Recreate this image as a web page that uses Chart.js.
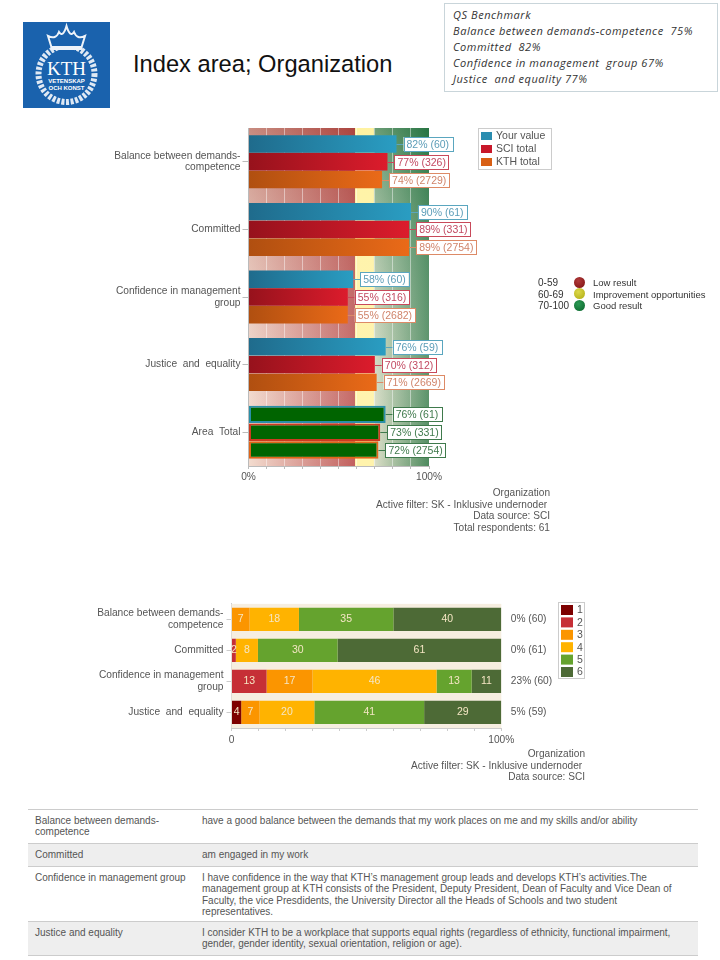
<!DOCTYPE html>
<html>
<head>
<meta charset="utf-8">
<title>Index area; Organization</title>
<script src="https://cdn.jsdelivr.net/npm/chart.js@4"></script>
<style>
html,body{margin:0;padding:0;background:#fff}
body{position:relative;width:720px;height:960px;overflow:hidden;font-family:"Liberation Sans",Arial,sans-serif;color:#555}
.abs{position:absolute;white-space:nowrap}
canvas{position:absolute}
#title{left:133px;top:51px;font-size:23.7px;color:#111}
#qs{left:444px;top:3px;width:274px;height:89px;border:1px solid #c9d5da;box-sizing:border-box;padding:3px 8px;font:italic 11px/16px "Open Sans",sans-serif;color:#333;letter-spacing:.55px}
.note{text-align:right;font-size:10.1px;line-height:11.7px;color:#555;white-space:pre}
.rate{font-size:9.5px;color:#333;line-height:11.5px}
.dot{position:absolute;width:11px;height:11px;border-radius:50%}
.row{position:absolute;left:28px;width:670px;box-sizing:border-box;border-top:1px solid #ccc;font-size:10px;line-height:11.3px;color:#555}
.row div{position:absolute;top:5px}
.row .a{left:7px}
.row .b{left:174px;width:490px;white-space:nowrap}
</style>
</head>
<body>
<svg class="abs" style="left:23px;top:22px" width="87" height="86" viewBox="0 0 87 86">
  <rect width="87" height="86" fill="#1a62ad"/>
  <circle cx="43.5" cy="52" r="28" fill="none" stroke="#dfe9f4" stroke-width="6" stroke-dasharray="3 1.6"/>
  <path d="M29 27 L25 14 Q33 18 36 10 Q40 16 43.5 4 Q47 16 51 10 Q54 18 62 14 L58 27 Z" fill="#1a62ad" stroke="#eef3f9" stroke-width="2"/>
  <rect x="29" y="24" width="29" height="3" fill="#eef3f9"/>
  <text x="43.5" y="53" text-anchor="middle" font-family="Liberation Serif" font-size="19" fill="#fff">KTH</text>
  <text x="43.5" y="61" text-anchor="middle" font-family="Liberation Sans" font-weight="bold" font-size="6" fill="#fff">VETENSKAP</text>
  <text x="43.5" y="68" text-anchor="middle" font-family="Liberation Sans" font-weight="bold" font-size="6" fill="#fff">OCH KONST</text>
</svg>
<div class="abs" id="title">Index area; Organization</div>
<div class="abs" id="qs">QS Benchmark<br>Balance between demands-competence&nbsp; 75%<br>Committed&nbsp; 82%<br>Confidence in management&nbsp; group 67%<br>Justice&nbsp; and equality 77%</div>

<canvas id="indexChart" width="480" height="380" style="left:100px;top:120px"></canvas>

<div class="abs rate" style="left:538px;top:277px;font-size:10px">0-59<br>60-69<br>70-100</div>
<div class="dot" style="left:574px;top:277px;background:radial-gradient(circle at 40% 35%,#b03a3a,#7d1010)"></div>
<div class="dot" style="left:574px;top:288px;background:radial-gradient(circle at 40% 35%,#dcd84a,#aeaa10)"></div>
<div class="dot" style="left:574px;top:300px;background:radial-gradient(circle at 40% 35%,#2c9a54,#0a642c)"></div>
<div class="abs rate" style="left:593px;top:277px">Low result<br>Improvement opportunities<br>Good result</div>

<div class="abs note" style="right:170px;top:487px">Organization
Active filter: SK - Inklusive undernoder&nbsp;
Data source: SCI
Total respondents: 61</div>

<canvas id="scaleChart" width="510" height="170" style="left:90px;top:595px"></canvas>

<div class="abs note" style="right:135px;top:748px">Organization
Active filter: SK - Inklusive undernoder&nbsp;
Data source: SCI</div>

<div class="row" style="top:809px;height:34px"><div class="a">Balance between demands-<br>competence</div><div class="b">have a good balance between the demands that my work places on me and my skills and/or ability</div></div>
<div class="row" style="top:843px;height:23px;background:#eee"><div class="a">Committed</div><div class="b">am engaged in my work</div></div>
<div class="row" style="top:866px;height:55px"><div class="a">Confidence in management group</div><div class="b">I have confidence in the way that KTH’s management group leads and develops KTH’s activities.The<br>management group at KTH consists of the President, Deputy President, Dean of Faculty and Vice Dean of<br>Faculty, the vice Presdidents, the University Director all the Heads of Schools and two student<br>representatives.</div></div>
<div class="row" style="top:921px;height:35px;background:#eee;border-bottom:1px solid #ccc"><div class="a">Justice and equality</div><div class="b">I consider KTH to be a workplace that supports equal rights (regardless of ethnicity, functional impairment,<br>gender, gender identity, sexual orientation, religion or age).</div></div>

<script>
// index chart data
const indexCats=[['Balance between demands-','competence'],'Committed',['Confidence in management','group'],'Justice  and  equality','Area  Total']
const yourValue=[82,90,58,76,76]
const yourN=[60,61,60,59,61]
const sciTotal=[77,89,55,70,73]
const sciN=[326,331,316,312,331]
const kthTotal=[74,89,55,71,72]
const kthN=[2729,2754,2682,2669,2754]
const zoneEdges=[0,59,69.5,100]

// distribution chart data
const scaleCats=[['Balance between demands-','competence'],'Committed',['Confidence in management','group'],'Justice  and  equality']
const score1=[0,0,0,3.6]
const score2=[0,1.6,13,0]
const score3=[6.7,0,17,6.8]
const score4=[18.3,8.2,46,20.3]
const score5=[35,29.5,13,40.7]
const score6=[40,60.7,11,28.6]
const lowShare=['0% (60)','0% (61)','23% (60)','5% (59)']

Chart.defaults.font.family='"Liberation Sans",Arial,sans-serif'
Chart.defaults.font.size=10.2
Chart.defaults.color='#555'
Chart.defaults.animation=false

// coloured bands behind the grid and the index bars
const zoneBands={
  id:'zoneBands',
  beforeDraw(chart){
    const {ctx,chartArea:a,scales:{x}}=chart
    const zones=[
      {l:'#f3dccf',r:'#c2605e',t:'rgba(140,30,20,.42)'},
      {l:'#fff3ac',r:'#fff3ac',t:'rgba(255,240,120,.2)'},
      {l:'#dcdfc8',r:'#4e8a5e',t:'rgba(0,95,40,.5)'}
    ]
    ctx.save()
    zones.forEach((z,i)=>{
      const x0=x.getPixelForValue(zoneEdges[i]),x1=x.getPixelForValue(zoneEdges[i+1])
      let g=ctx.createLinearGradient(x0,0,x1,0)
      g.addColorStop(0,z.l);g.addColorStop(1,z.r)
      ctx.fillStyle=g
      ctx.fillRect(x0,a.top,x1-x0,a.height)
      g=ctx.createLinearGradient(0,a.top,0,a.bottom)
      g.addColorStop(0,z.t);g.addColorStop(1,'rgba(255,255,255,0)')
      ctx.fillStyle=g
      ctx.fillRect(x0,a.top,x1-x0,a.height)
    })
    ctx.restore()
  }
}

// "82% (60)" boxes at the end of each bar
const endLabels={
  id:'endLabels',
  afterDatasetsDraw(chart){
    const {ctx}=chart
    ctx.save()
    ctx.font='10.5px "Liberation Sans"'
    ctx.textBaseline='middle'
    chart.data.datasets.forEach((ds,d)=>{
      chart.getDatasetMeta(d).data.forEach((bar,i)=>{
        const txt=ds.data[i]+'% ('+ds.counts[i]+')'
        const total=i==indexCats.length-1
        const line=total?'#3f7a4c':ds.line
        const w=ctx.measureText(txt).width+6
        const bx=bar.x+7,by=Math.round(bar.y)-7
        ctx.strokeStyle=line
        ctx.lineWidth=1
        ctx.beginPath();ctx.moveTo(bar.x,by+7.5);ctx.lineTo(bx,by+7.5);ctx.stroke()
        ctx.fillStyle='#fff'
        ctx.fillRect(bx,by,w,14)
        ctx.strokeRect(Math.round(bx)+.5,by+.5,Math.round(w),14)
        ctx.fillStyle=total?'#3f7a4c':ds.ink
        ctx.fillText(txt,bx+3,by+8)
      })
    })
    ctx.restore()
  }
}

// boxed legend next to the plot
const boxLegend={
  id:'boxLegend',
  afterDraw(chart,args,o){
    const {ctx}=chart
    const sets=chart.data.datasets
    ctx.save()
    ctx.strokeStyle='#ccc'
    ctx.fillStyle='#fff'
    ctx.fillRect(o.x,o.y,o.w,o.h)
    ctx.strokeRect(o.x+.5,o.y+.5,o.w,o.h)
    ctx.font='10.5px "Liberation Sans"'
    ctx.textBaseline='middle'
    sets.forEach((ds,i)=>{
      const y=o.y+o.pad+i*o.step
      ctx.fillStyle=ds.swatch
      ctx.fillRect(o.x+3,y,o.sw,o.sh)
      ctx.fillStyle='#555'
      ctx.fillText(ds.label,o.x+o.sw+7,y+o.sh/2+.5)
    })
    ctx.restore()
  }
}

function barFill(dark,light){
  return c=>{
    if(c.dataIndex==indexCats.length-1) return '#006400'
    const s=c.chart.scales.x
    const end=s?s.getPixelForValue(c.raw):NaN
    if(!Number.isFinite(end)||!Number.isFinite(s.left)) return light
    const g=c.chart.ctx.createLinearGradient(s.left,0,end,0)
    g.addColorStop(0,dark);g.addColorStop(1,light)
    return g
  }
}
const lastOnly=c=>c.dataIndex==indexCats.length-1?2:0

new Chart(document.getElementById('indexChart'),{
  type:'bar',
  plugins:[zoneBands,endLabels,boxLegend],
  data:{
    labels:indexCats,
    datasets:[
      {label:'Your value',data:yourValue,counts:yourN,backgroundColor:barFill('#1f6b8c','#2a9dc2'),borderColor:'#2a8fa8',borderWidth:lastOnly,line:'#5aa6bf',ink:'#5c9db8',swatch:'#2a8db0'},
      {label:'SCI total',data:sciTotal,counts:sciN,backgroundColor:barFill('#96121c','#dc1c2c'),borderColor:'#cc3a20',borderWidth:lastOnly,line:'#c8495a',ink:'#c24a62',swatch:'#c8182a'},
      {label:'KTH total',data:kthTotal,counts:kthN,backgroundColor:barFill('#b04f10','#ea6a18'),borderColor:'#e06518',borderWidth:lastOnly,line:'#dd8a66',ink:'#d0846a',swatch:'#d85f14'}
    ]
  },
  options:{
    indexAxis:'y',
    responsive:false,
    layout:{padding:{top:8,right:151,left:0,bottom:0}},
    datasets:{bar:{categoryPercentage:.79,barPercentage:.975,borderSkipped:false}},
    plugins:{
      legend:{display:false},tooltip:{enabled:false},
      boxLegend:{x:378,y:8,w:73,h:41,pad:4,step:13,sw:11,sh:8}
    },
    scales:{
      x:{
        min:0,max:100,
        afterFit(s){s.height=34},
        grid:{color:'rgba(255,255,255,.45)',tickColor:'#bbb',tickLength:3},
        border:{color:'#bbb'},
        ticks:{stepSize:10,autoSkip:false,maxRotation:0,padding:2,color:'#555',callback:v=>v==0||v==100?v+'%':''}
      },
      y:{
        afterFit(s){s.width=148.5},
        grid:{offset:false,drawOnChartArea:false,tickColor:'#bbb',tickLength:6},
        border:{color:'#bbb'},
        ticks:{padding:2,color:'#555',font:{lineHeight:1.15}}
      }
    }
  }
})

// beige backdrop, counts inside the bars and the share column on the right
const scaleExtras={
  id:'scaleExtras',
  beforeDatasetsDraw(chart){
    const {ctx,chartArea:a}=chart
    ctx.save()
    ctx.fillStyle='#f6eee0'
    ctx.fillRect(a.left,a.top,a.width,a.height)
    ctx.restore()
  },
  afterDatasetsDraw(chart){
    const {ctx,chartArea:a}=chart
    ctx.save()
    ctx.font='10.5px "Liberation Sans"'
    ctx.textAlign='center'
    ctx.textBaseline='middle'
    chart.data.datasets.forEach((ds,d)=>{
      chart.getDatasetMeta(d).data.forEach((bar,i)=>{
        if(!ds.data[i]) return
        ctx.fillStyle='#f5e6c4'
        ctx.fillText(Math.round(ds.data[i]),(bar.x+bar.base)/2,bar.y)
      })
    })
    ctx.textAlign='left'
    ctx.fillStyle='#555'
    ctx.font='10.2px "Liberation Sans"'
    chart.getDatasetMeta(0).data.forEach((bar,i)=>{
      ctx.fillText(lowShare[i],a.right+9.5,bar.y)
    })
    ctx.restore()
  }
}

const scaleSet=(label,data,color)=>({label,data,backgroundColor:color,swatch:color})

new Chart(document.getElementById('scaleChart'),{
  type:'bar',
  plugins:[scaleExtras,boxLegend],
  data:{
    labels:scaleCats,
    datasets:[
      scaleSet('1',score1,'#7d0000'),
      scaleSet('2',score2,'#c62f36'),
      scaleSet('3',score3,'#fb9500'),
      scaleSet('4',score4,'#ffb300'),
      scaleSet('5',score5,'#65a32e'),
      scaleSet('6',score6,'#4d6a36')
    ]
  },
  options:{
    indexAxis:'y',
    responsive:false,
    layout:{padding:{top:8,right:98.7,left:0,bottom:0}},
    datasets:{bar:{categoryPercentage:1,barPercentage:.75}},
    plugins:{
      legend:{display:false},tooltip:{enabled:false},
      boxLegend:{x:468,y:7,w:26,h:76,pad:3,step:12.4,sw:12,sh:10}
    },
    scales:{
      x:{
        stacked:true,min:0,max:100,
        afterFit(s){s.height=37},
        grid:{drawOnChartArea:false,tickColor:'#ccc',tickLength:3},
        border:{color:'#ccc'},
        ticks:{stepSize:10,autoSkip:false,maxRotation:0,padding:3,color:'#555',callback:v=>v==0?'0':v==100?'100%':''}
      },
      y:{
        stacked:true,
        afterFit(s){s.width=141.5},
        grid:{offset:false,drawOnChartArea:false,tickColor:'#ccc',tickLength:5},
        border:{color:'#ccc'},
        ticks:{padding:3,color:'#555',font:{lineHeight:1.15}}
      }
    }
  }
})
</script>
</body>
</html>
